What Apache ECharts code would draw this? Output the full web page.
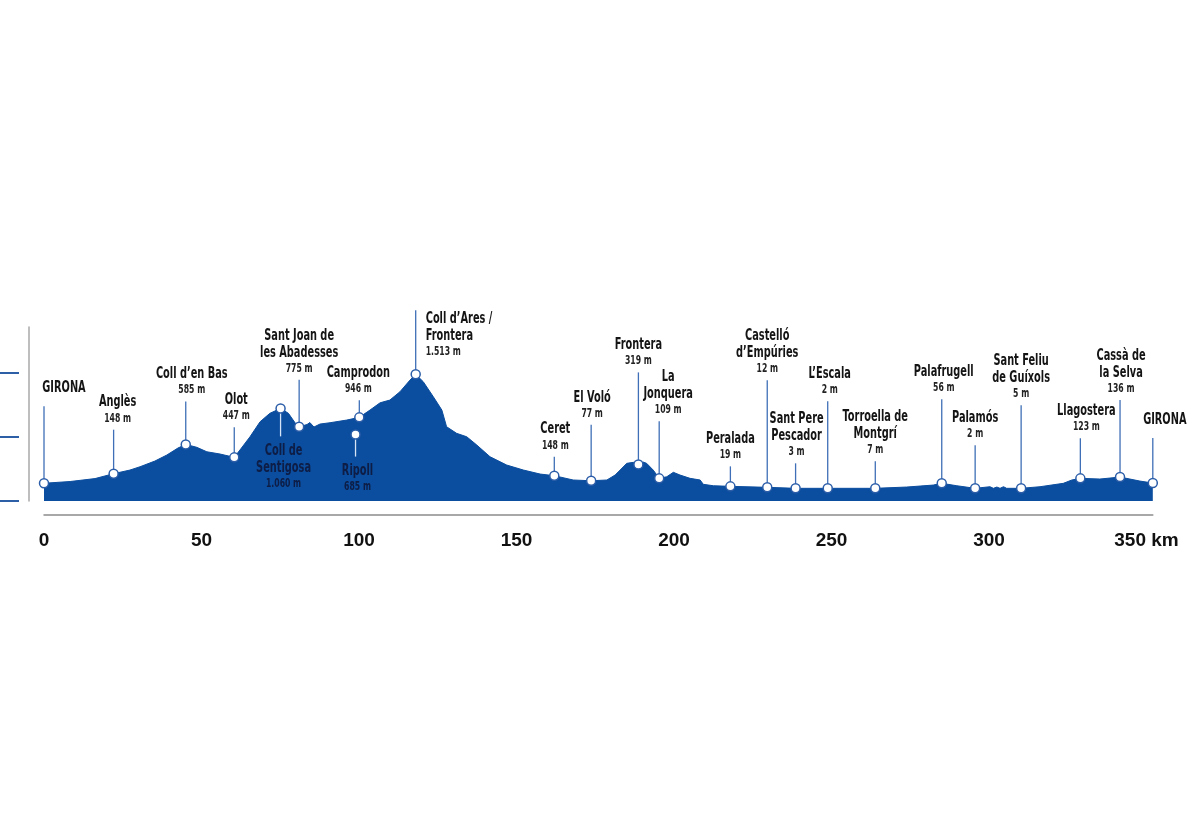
<!DOCTYPE html>
<html><head><meta charset="utf-8">
<script src="https://cdn.jsdelivr.net/npm/echarts@6/dist/echarts.min.js"></script>
<style>html,body{margin:0;padding:0;background:#fff}#c{width:1200px;height:830px}</style>
</head><body><div id="c"></div>
<script>
// ---- data ----
const profileKm = [0, 8.3, 16.2, 22.1, 27.3, 30.5, 35.2, 39.0, 42.5, 45.0, 48.5, 51.7, 55.9, 60.4, 62.2, 65.4, 68.6, 71.7, 75.1, 77.6, 80.2, 81.0, 83.5, 84.4, 85.7, 87.6, 90.8, 96.1, 100.1, 103.5, 106.7, 109.8, 113.0, 116.2, 118.0, 120.4, 123.6, 126.3, 127.8, 131.0, 134.2, 137.4, 141.6, 146.9, 152.2, 157.5, 162.0, 168.0, 173.7, 178.7, 181.3, 182.9, 185.0, 187.1, 188.7, 190.2, 191.3, 193.4, 195.3, 197.7, 199.8, 201.9, 205.1, 208.3, 209.3, 212.5, 217.9, 229.6, 238.6, 248.8, 263.9, 273.9, 282.3, 285.0, 289.8, 295.6, 300.3, 301.4, 302.5, 303.5, 304.6, 305.6, 310.2, 316.2, 323.6, 326.3, 329.0, 335.2, 338.4, 341.6, 347.9, 352.0];
const profileElev = [70, 93, 132, 197, 245, 289, 364, 444, 536, 585, 546, 487, 457, 413, 510, 686, 885, 996, 1062, 996, 841, 818, 848, 874, 815, 854, 872, 907, 943, 1040, 1136, 1172, 1282, 1437, 1513, 1415, 1216, 1040, 819, 731, 686, 576, 421, 311, 245, 192, 170, 113, 103, 113, 179, 245, 334, 347, 320, 351, 334, 245, 135, 156, 215, 179, 135, 113, 56, 37, 29, 16, 3, 3, 3, 20, 46, 69, 37, 3, 24, 3, 20, 3, 24, 3, 3, 24, 69, 113, 135, 126, 139, 152, 99, 73];

const stationNames = ['GIRONA', 'Anglès', 'Coll d’en Bas', 'Olot', 'Coll de\nSentigosa', 'Sant Joan de\nles Abadesses', 'Ripoll', 'Camprodon', 'Coll d’Ares /\nFrontera', 'Ceret', 'El Voló', 'Frontera', 'La\nJonquera', 'Peralada', 'Castelló\nd’Empúries', 'Sant Pere\nPescador', 'L’Escala', 'Torroella de\nMontgrí', 'Palafrugell', 'Palamós', 'Sant Feliu\nde Guíxols', 'Llagostera', 'Cassà de\nla Selva', 'GIRONA'];
const stationKm = [0, 22.1, 45.0, 60.4, 75.1, 81.0, 98.9, 100.1, 118.0, 162.0, 173.7, 188.7, 195.3, 217.9, 229.6, 238.6, 248.8, 263.9, 285.0, 295.6, 310.2, 329.0, 341.6, 352.0];
const stationElevText = ['', '148 m', '585 m', '447 m', '1.060 m', '775 m', '685 m', '946 m', '1.513 m', '148 m', '77 m', '319 m', '109 m', '19 m', '12 m', '3 m', '2 m', '7 m', '56 m', '2 m', '5 m', '123 m', '136 m', ''];
const stationMarkElev = [70, 197, 585, 413, 1062, 818, 715, 943, 1513, 170, 103, 320, 135, 29, 16, 3, 3, 3, 69, 3, 3, 135, 152, 73];

const xTickLabels = ['0', '50', '100', '150', '200', '250', '300', '350 km'];

// ---- label layout (px) ----
const labelSide = ['up','up','up','up','down','up','down','up','right','up','up','up','up','up','up','up','up','up','up','up','up','up','up','up'];
const labelLift = [77, 44, 43, 30, 28, 47, 22, 17, 64, 19, 56, 92, 57, 20, 107, 25, 87, 27, 84, 43, 83, 40, 77, 45];
const labelDx = [20, 4, 6, 2, 3, 0, 2, -1, 10, 1, 1, 0, 9, 0, 0, 1, 2, 0, 2, 0, 0, 6, 1, 12];

const FONT = '"DejaVu Sans Condensed", "Liberation Sans Narrow", sans-serif';
const AXFONT = '"Liberation Sans", Arial, sans-serif';
const FILL = '#0b4d9e';
const LEAD = '#3f6fb6';

const chart = echarts.init(document.getElementById('c'), null, {renderer: 'canvas'});

function richFor(inside) {
  const c1 = inside ? '#0d1d45' : '#141414';
  const c2 = inside ? '#0d1d45' : '#222222';
  return {
    n: {fontFamily: FONT, fontWeight: 'bold', fontSize: 16.5, lineHeight: 17, fill: c1},
    e: {fontFamily: FONT, fontWeight: 'bold', fontSize: 13, lineHeight: 15, fill: c2}
  };
}

function renderStation(params, api) {
  const i = params.dataIndex;
  const p = api.coord([api.value(0), api.value(1)]);
  const side = labelSide[i], lift = labelLift[i], dx = labelDx[i];
  const r = 4.5;
  const lines = stationNames[i].split('\n').map(s => '{n|' + s + '}');
  if (stationElevText[i]) lines.push('{e|' + stationElevText[i] + '}');
  const txt = lines.join('\n');
  const gap = stationElevText[i] ? 4 : 10;
  const children = [];
  let tx, ty, align, va, inside = false;
  if (side === 'up') {
    children.push({type: 'line', shape: {x1: p[0], y1: p[1] - r, x2: p[0], y2: p[1] - lift}, style: {stroke: LEAD, lineWidth: 1.3}});
    tx = p[0] + dx; ty = p[1] - lift - gap; align = 'center'; va = 'bottom';
  } else if (side === 'down') {
    inside = true;
    children.push({type: 'line', shape: {x1: p[0], y1: p[1] + r, x2: p[0], y2: p[1] + lift}, style: {stroke: '#d6e4f7', lineWidth: 1.3}});
    tx = p[0] + dx; ty = p[1] + lift + 6; align = 'center'; va = 'top';
  } else {
    children.push({type: 'line', shape: {x1: p[0], y1: p[1] - r, x2: p[0], y2: p[1] - lift}, style: {stroke: LEAD, lineWidth: 1.3}});
    tx = p[0] + dx; ty = p[1] - lift; align = 'left'; va = 'top';
  }
  children.push({type: 'circle', shape: {cx: p[0], cy: p[1], r: r}, style: {fill: '#ffffff', stroke: '#2b5da8', lineWidth: 1.5}});
  children.push({type: 'text', x: tx, y: ty, scaleX: 0.66, scaleY: 1,
    style: {text: txt, x: 0, y: 0, align: align, verticalAlign: va, rich: richFor(inside)}});
  return {type: 'group', children: children};
}

const option = {
  backgroundColor: '#ffffff',
  animation: false,
  grid: [
    {left: 44, top: 327, width: 1108.8, height: 174, outerBoundsMode: 'none', containLabel: false},
    {left: 19, top: 373, width: 5, height: 128, outerBoundsMode: 'none', containLabel: false}
  ],
  xAxis: [
    {type: 'value', gridIndex: 0, min: 0, max: 352, interval: 50, offset: 14,
      axisLine: {show: true, onZero: false, lineStyle: {color: '#8c8c8c', width: 1.5}},
      axisTick: {show: false}, splitLine: {show: false},
      axisLabel: {show: true, margin: 16, showMaxLabel: false, color: '#111', fontFamily: AXFONT, fontWeight: 'bold', fontSize: 19,
        formatter: v => xTickLabels[Math.round(v / 50)] || ''}},
    {type: 'value', gridIndex: 1, show: false, min: 0, max: 1}
  ],
  yAxis: [
    {type: 'value', gridIndex: 0, min: -165, max: 2140, offset: 15,
      axisLine: {show: true, onZero: false, lineStyle: {color: '#a8a8a8', width: 1.5}},
      axisTick: {show: false}, axisLabel: {show: false}, splitLine: {show: false}},
    {type: 'value', gridIndex: 1, min: 0, max: 2, interval: 1,
      axisLine: {show: false}, axisLabel: {show: false}, splitLine: {show: false},
      axisTick: {show: true, length: 19, lineStyle: {color: '#2c5fa6', width: 2}}}
  ],
  series: [
    {type: 'line', xAxisIndex: 0, yAxisIndex: 0, symbol: 'none', smooth: false,
      data: profileKm.map((k, i) => [k, profileElev[i]]),
      lineStyle: {color: FILL, width: 1},
      areaStyle: {color: FILL, opacity: 1, origin: 'start'}, z: 2},
    {type: 'custom', xAxisIndex: 0, yAxisIndex: 0, clip: false, z: 5,
      renderItem: renderStation,
      data: stationKm.map((k, i) => [k, stationMarkElev[i], i])}
  ]
};
chart.setOption(option);
</script>
</body></html>
